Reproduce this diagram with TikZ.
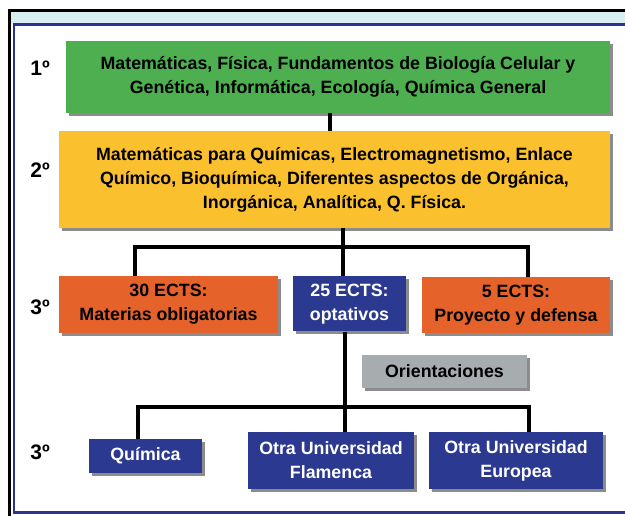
\documentclass[tikz,border=0pt]{standalone}
\usepackage{fontspec}
\setmainfont{Liberation Sans}
\usepackage{tikz}
\usetikzlibrary{positioning,shadows}

\definecolor{yeargreen}{RGB}{77,175,80}
\definecolor{yearyellow}{RGB}{251,192,45}
\definecolor{ectsorange}{RGB}{229,98,42}
\definecolor{ectsnavy}{RGB}{43,57,144}
\definecolor{orientgray}{RGB}{167,172,175}
\definecolor{framecyan}{RGB}{217,238,240}
\definecolor{frameblue}{RGB}{46,49,146}

\begin{document}
\begin{tikzpicture}[x=1pt,y=-1pt,
    every node/.style={font=\bfseries\fontsize{17.8}{24}\selectfont,align=center,inner sep=0pt},
    yearlabel/.style={font=\bfseries\fontsize{21}{24}\selectfont},
    box/.style={drop shadow={shadow xshift=3pt,shadow yshift=-3pt,fill=black!45,opacity=1}},
    navybox/.style={box,fill=ectsnavy,text=white},
    link/.style={line width=3.5pt}]
        \useasboundingbox (0,0) rectangle (625,516);
        % frame
        \fill[framecyan] (10,11) rectangle (625,24);
        \draw[line width=2.5pt] (9.5,516) -- (9.5,10.5) -- (625,10.5);
        \draw[frameblue,line width=2.5pt] (625,24.5) -- (14,24.5) -- (14,512.5) -- (625,512.5);

        % study plan by year
        \node[yearlabel] (y1) at (40,68) {1º};
        \node[yearlabel] (y2) at (40,170) {2º};
        \node[yearlabel] (y3) at (40,307) {3º};
        \node[yearlabel] (y3b) at (40,452) {3º};

        \node[box,fill=yeargreen,minimum width=544,minimum height=72] (first) at (338,77)
            {Matemáticas, Física, Fundamentos de Biología Celular y\\Genética, Informática, Ecología, Química General};
        \node[box,fill=yearyellow,minimum width=551,minimum height=97] (second) at (334.5,179.5)
            {Matemáticas para Químicas, Electromagnetismo, Enlace\\Químico, Bioquímica, Diferentes aspectos de Orgánica,\\Inorgánica, Analítica, Q. Física.};

        \node[box,fill=ectsorange,minimum width=219,minimum height=57] (compulsory) at (168.5,304.5) {30 ECTS:\\Materias obligatorias};
        \node[navybox,minimum width=113,minimum height=55] (optional) at (349.5,304) {25 ECTS:\\optativos};
        \node[box,fill=ectsorange,minimum width=188,minimum height=56] (project) at (516,305) {5 ECTS:\\Proyecto y defensa};

        \node[box,fill=orientgray,minimum width=165,minimum height=33] (orient) at (444.5,371.5) {Orientaciones};

        \node[navybox,minimum width=113,minimum height=34] (chem) at (145.5,456) {Química};
        \node[navybox,minimum width=166,minimum height=57] (flemish) at (331,460.5) {Otra Universidad\\Flamenca};
        \node[navybox,minimum width=174,minimum height=57] (european) at (516,460.5) {Otra Universidad\\Europea};

        \coordinate (busTop) at (343,247);
        \coordinate (busL) at (135,247);
        \coordinate (busR) at (528,247);
        \coordinate (busLow) at (345,407);
        \coordinate (lowL) at (138,407);
        \coordinate (lowR) at (529,407);

        \draw[link] ([xshift=-8pt]first.south) -- ([xshift=-8pt]first.south |- second.north);
        \draw[link] (second.south -| busTop) -- (busTop);
        \draw[link] (busL |- compulsory.north) -- (busL) -- (busR) -- (busR |- project.north);
        \draw[link] (busTop) -- (busTop |- optional.north);

        \draw[link] (optional.south -| busLow) -- (busLow |- flemish.north);
        \draw[link] (lowL |- chem.north) -- (lowL) -- (lowR) -- (lowR |- european.north);
\end{tikzpicture}
\end{document}
